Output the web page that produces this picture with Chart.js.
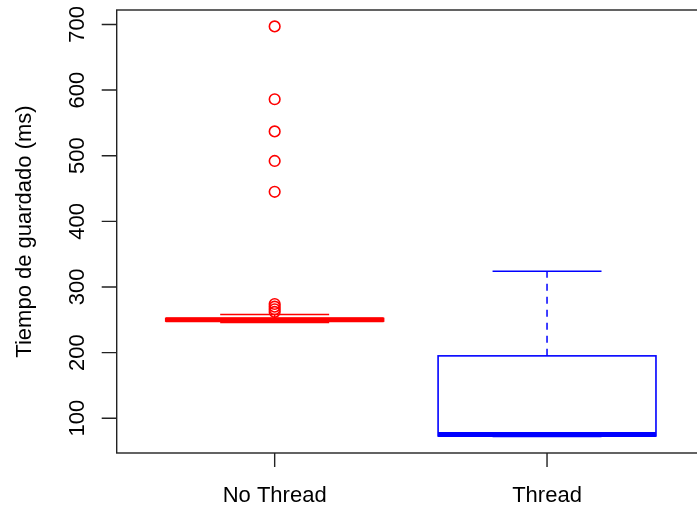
<!DOCTYPE html>
<html>
<head>
<meta charset="utf-8">
<script src="https://cdn.jsdelivr.net/npm/chart.js@4.4.0/dist/chart.umd.min.js"></script>
<style>
html,body{margin:0;padding:0;overflow:hidden;background:#fff;}
canvas{display:block;}
</style>
</head>
<body>
<canvas id="c" width="720" height="506"></canvas>
<script>
// ---- data ----
const categories = ["No Thread", "Thread"];
const whiskerLow = [246, 72];
const q1 = [248, 73];
const median = [250, 75];
const q3 = [252, 195];
const whiskerHigh = [258, 324];
const outliersNoThread = [697, 586, 537, 492, 445, 274, 270, 266, 262];
const outliersThread = [];
const yTicks = [100, 200, 300, 400, 500, 600, 700];
const yTitle = "Tiempo de guardado (ms)";
const boxColors = ["#ff0000", "#0000ff"];

const FONT = '22px "Liberation Sans", Arial, sans-serif';

const outlierPoints = [];
outliersNoThread.forEach(v => outlierPoints.push({x: 1, y: v}));
outliersThread.forEach(v => outlierPoints.push({x: 2, y: v}));
const outlierColors = outlierPoints.map(p => boxColors[p.x - 1]);

const boxPlugin = {
  id: 'boxes',
  beforeDatasetsDraw(chart) {
    const ctx = chart.ctx, xs = chart.scales.x, ys = chart.scales.y;
    const halfBox = (xs.getPixelForValue(1.4) - xs.getPixelForValue(1));
    const halfStaple = halfBox / 2;
    ctx.save();
    categories.forEach((c, i) => {
      const col = boxColors[i];
      const cx = xs.getPixelForValue(i + 1);
      const yL = ys.getPixelForValue(whiskerLow[i]);
      const y1 = ys.getPixelForValue(q1[i]);
      const yM = ys.getPixelForValue(median[i]);
      const y3 = ys.getPixelForValue(q3[i]);
      const yH = ys.getPixelForValue(whiskerHigh[i]);
      ctx.strokeStyle = col;
      ctx.lineWidth = 1.5;
      ctx.setLineDash([7, 6]);
      ctx.beginPath();
      ctx.moveTo(cx, y3); ctx.lineTo(cx, yH);
      ctx.moveTo(cx, y1); ctx.lineTo(cx, yL);
      ctx.stroke();
      ctx.setLineDash([]);
      ctx.beginPath();
      ctx.moveTo(cx - halfStaple, yH); ctx.lineTo(cx + halfStaple, yH);
      ctx.moveTo(cx - halfStaple, yL); ctx.lineTo(cx + halfStaple, yL);
      ctx.stroke();
      ctx.fillStyle = '#ffffff';
      ctx.fillRect(cx - halfBox, y3, 2 * halfBox, y1 - y3);
      ctx.lineWidth = 1.6;
      ctx.strokeRect(cx - halfBox, y3, 2 * halfBox, y1 - y3);
      ctx.lineWidth = 5;
      ctx.beginPath();
      ctx.moveTo(cx - halfBox, yM); ctx.lineTo(cx + halfBox, yM);
      ctx.stroke();
    });
    ctx.restore();
  },
  afterDraw(chart) {
    const ctx = chart.ctx, xs = chart.scales.x, ys = chart.scales.y;
    const a = chart.chartArea;
    ctx.save();
    ctx.strokeStyle = '#222';
    ctx.lineWidth = 1.4;
    ctx.strokeRect(a.left, a.top, a.right - a.left, a.bottom - a.top);
    ctx.fillStyle = '#000';
    ctx.font = FONT;
    ctx.textAlign = 'center';
    ctx.textBaseline = 'middle';
    ctx.beginPath();
    yTicks.forEach(v => {
      const y = ys.getPixelForValue(v);
      ctx.moveTo(a.left - 15, y); ctx.lineTo(a.left, y);
    });
    categories.forEach((c, i) => {
      const x = xs.getPixelForValue(i + 1);
      ctx.moveTo(x, a.bottom); ctx.lineTo(x, a.bottom + 14);
    });
    ctx.stroke();
    yTicks.forEach(v => {
      const y = ys.getPixelForValue(v);
      ctx.save();
      ctx.translate(78, y);
      ctx.rotate(-Math.PI / 2);
      ctx.fillText(String(v), 0, 0);
      ctx.restore();
    });
    categories.forEach((c, i) => {
      const x = xs.getPixelForValue(i + 1);
      ctx.fillText(c, x, 496);
    });
    ctx.save();
    ctx.translate(25, (a.top + a.bottom) / 2);
    ctx.rotate(-Math.PI / 2);
    ctx.fillText(yTitle, 0, 0);
    ctx.restore();
    ctx.restore();
  }
};

new Chart(document.getElementById('c'), {
  type: 'scatter',
  data: {
    datasets: [{
      data: outlierPoints,
      pointStyle: 'circle',
      pointRadius: 5.3,
      pointHoverRadius: 5.3,
      borderWidth: 1.6,
      pointBorderColor: outlierColors,
      pointBackgroundColor: 'rgba(0,0,0,0)'
    }]
  },
  options: {
    responsive: false,
    animation: false,
    devicePixelRatio: 1,
    layout: {padding: {left: 116.7, top: 10, right: 15, bottom: 53}},
    plugins: {legend: {display: false}, tooltip: {enabled: false}},
    events: [],
    scales: {
      x: {type: 'linear', min: 0.42, max: 2.58, display: false},
      y: {type: 'linear', min: 47, max: 722, display: false}
    }
  },
  plugins: [boxPlugin]
});
</script>
</body>
</html>
